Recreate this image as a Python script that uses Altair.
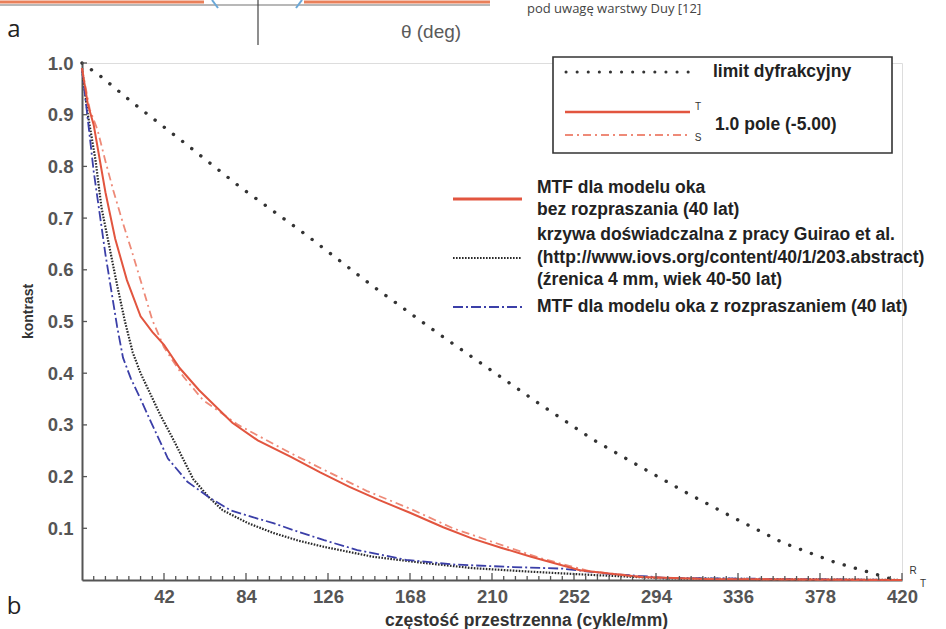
import altair as alt
import pandas as pd

# ---------------- data ----------------
limit_x = [0, 10, 26, 54, 81, 115, 148, 182, 233, 262, 286, 310, 334, 359, 385, 405, 416]
limit_y = [1.0, 0.973, 0.923, 0.841, 0.760, 0.667, 0.571, 0.478, 0.344, 0.271, 0.219, 0.168,
           0.120, 0.072, 0.035, 0.013, 0.0]

t_x = [0, 3, 6, 12, 17, 23, 30, 36, 42, 50, 60, 77, 90, 107, 122, 137, 152, 168, 185, 200,
       215, 230, 255, 286, 320, 420]
t_y = [0.99, 0.92, 0.88, 0.75, 0.66, 0.58, 0.51, 0.48, 0.455, 0.41, 0.367, 0.304, 0.27, 0.238,
       0.208, 0.180, 0.155, 0.130, 0.102, 0.08, 0.062, 0.045, 0.019, 0.006, 0.002, 0.0]

s_x = [0, 4, 8, 12, 16, 21, 26, 31, 36, 42, 52, 62, 80, 107, 124, 146, 168, 190, 210, 235,
       260, 290, 320, 420]
s_y = [0.99, 0.91, 0.87, 0.81, 0.754, 0.69, 0.63, 0.567, 0.503, 0.45, 0.393, 0.348, 0.30,
       0.245, 0.213, 0.172, 0.138, 0.10, 0.074, 0.042, 0.017, 0.005, 0.002, 0.0]

guirao_x = [0, 3, 7, 10, 14, 18, 22, 26, 30, 35, 40, 47, 57, 65, 72, 85, 98, 111, 124, 149,
            175, 200, 230, 260, 300, 420]
guirao_y = [0.99, 0.9, 0.81, 0.72, 0.645, 0.57, 0.50, 0.44, 0.40, 0.36, 0.32, 0.27, 0.195,
            0.16, 0.135, 0.11, 0.091, 0.076, 0.064, 0.045, 0.033, 0.023, 0.016, 0.01, 0.003, 0.0]

blue_x = [0, 3, 6, 9, 12, 15, 18, 21, 25, 30, 36, 44, 54, 65, 76, 87, 98, 111, 124, 141, 166,
          190, 221, 246, 270, 300, 420]
blue_y = [0.99, 0.89, 0.79, 0.71, 0.63, 0.56, 0.49, 0.43, 0.39, 0.35, 0.30, 0.235, 0.19, 0.16,
          0.135, 0.122, 0.11, 0.093, 0.077, 0.058, 0.039, 0.03, 0.025, 0.022, 0.012, 0.004, 0.0]

x_label_values = [42, 84, 126, 168, 210, 252, 294, 336, 378, 420]
x_minor_ticks = [6, 12, 18, 24, 30, 36, 48, 54, 60, 66, 72, 78, 90, 96, 102, 108, 114, 120,
                 132, 138, 144, 150, 156, 162, 174, 180, 186, 192, 198, 204, 216, 222, 228,
                 234, 240, 246, 258, 264, 270, 276, 282, 288, 300, 306, 312, 318, 324, 330,
                 342, 348, 354, 360, 366, 372, 384, 390, 396, 402, 408, 414]
y_tick_values = [0.1, 0.2, 0.3, 0.4, 0.5, 0.6, 0.7, 0.8, 0.9, 1.0]

FONT = "Liberation Sans"
AX = "#555555"
LBL = 18.5


def frame(xs, ys):
    return pd.DataFrame({"f": xs, "c": ys})


x_scale = alt.Scale(domain=[0, 420], nice=False, zero=True)
y_scale = alt.Scale(domain=[0, 1], nice=False)

x_enc = alt.X(
    "f:Q", scale=x_scale,
    axis=alt.Axis(
        values=x_label_values, format="d",
        labelOverlap=False, labelFlush=False,
        domainColor=AX, domainWidth=2, ticks=False,
        labelFont=FONT, labelFontWeight="bold", labelFontSize=LBL, labelColor=AX,
        labelPadding=7, grid=False,
        title="częstość przestrzenna (cykle/mm)", titleFont=FONT, titleFontWeight="bold",
        titleFontSize=17.5, titleColor="#333333", titleX=444, titleY=40,
        titleAlign="center", titleBaseline="middle",
    ),
)
y_enc = alt.Y(
    "c:Q", scale=y_scale,
    axis=alt.Axis(
        values=y_tick_values, format=".1f", labelOverlap=False, labelFlush=False,
        domainColor=AX, domainWidth=2, ticks=False,
        labelFont=FONT, labelFontWeight="bold", labelFontSize=LBL, labelColor=AX,
        labelPadding=9, grid=False,
        title="kontrast", titleFont=FONT, titleFontWeight="bold", titleFontSize=14,
        titleColor="#333333", titleAngle=270, titleX=-54, titleY=248,
        titleAlign="center", titleBaseline="middle",
    ),
)

RED = "#e2553f"
RED_S = "#ee8a78"
BLUE = "#3b3fa8"
BLACK = "#2a2a2a"

limit_line = alt.Chart(frame(limit_x, limit_y)).mark_line(
    color="#333333", strokeWidth=3.4, strokeDash=[0.1, 11.5], strokeCap="round"
).encode(x=x_enc, y=y_enc)

t_line = alt.Chart(frame(t_x, t_y)).mark_line(color=RED, strokeWidth=2).encode(x="f:Q", y="c:Q")
s_line = alt.Chart(frame(s_x, s_y)).mark_line(
    color=RED_S, strokeWidth=1.8, strokeDash=[8, 4, 2, 4]
).encode(x="f:Q", y="c:Q")
guirao_line = alt.Chart(frame(guirao_x, guirao_y)).mark_line(
    color=BLACK, strokeWidth=2.2, strokeDash=[1.6, 1.4]
).encode(x="f:Q", y="c:Q")
blue_line = alt.Chart(frame(blue_x, blue_y)).mark_line(
    color=BLUE, strokeWidth=1.8, strokeDash=[10, 3, 2, 3]
).encode(x="f:Q", y="c:Q")

# inward ticks (as in the reference)
minor_x = alt.Chart(pd.DataFrame({"f": x_minor_ticks})).mark_rule(color=AX, strokeWidth=1.3).encode(
    x="f:Q", y=alt.value(513), y2=alt.value(517))
major_x = alt.Chart(pd.DataFrame({"f": x_label_values})).mark_rule(color=AX, strokeWidth=1.3).encode(
    x="f:Q", y=alt.value(510), y2=alt.value(517))
ticks_y = alt.Chart(pd.DataFrame({"c": y_tick_values})).mark_rule(color=AX, strokeWidth=1.3).encode(
    y="c:Q", x=alt.value(0), x2=alt.value(5))

one = pd.DataFrame({"k": [0]})

# ---------------- legend (plot-area pixel coordinates) ----------------
legend_box = alt.Chart(one).mark_rect(fill="white", stroke="#333333", strokeWidth=1.6).encode(
    x=alt.value(471), x2=alt.value(810), y=alt.value(-6), y2=alt.value(90)
)
leg_limit = alt.Chart(one).mark_rule(
    color="#333333", strokeWidth=3, strokeDash=[0.1, 11], strokeCap="round"
).encode(x=alt.value(484), x2=alt.value(608), y=alt.value(9))
leg_t = alt.Chart(one).mark_rule(color=RED, strokeWidth=2.5).encode(
    x=alt.value(483), x2=alt.value(608), y=alt.value(49))
leg_s = alt.Chart(one).mark_rule(color=RED_S, strokeWidth=2, strokeDash=[8, 4, 2, 4]).encode(
    x=alt.value(483), x2=alt.value(608), y=alt.value(72))
leg_red2 = alt.Chart(one).mark_rule(color=RED, strokeWidth=3).encode(
    x=alt.value(371), x2=alt.value(440), y=alt.value(136))
leg_guirao = alt.Chart(one).mark_rule(color=BLACK, strokeWidth=2.2, strokeDash=[1.6, 1.4]).encode(
    x=alt.value(371), x2=alt.value(440), y=alt.value(195))
leg_blue = alt.Chart(one).mark_rule(color=BLUE, strokeWidth=2, strokeDash=[10, 3, 2, 3]).encode(
    x=alt.value(371), x2=alt.value(440), y=alt.value(244))

legend_texts = pd.DataFrame({
    "t": ["limit dyfrakcyjny", "1.0 pole (-5.00)", "MTF dla modelu oka",
          "bez rozpraszania (40 lat)", "krzywa doświadczalna z pracy Guirao et al.",
          "(http://www.iovs.org/content/40/1/203.abstract)", "(źrenica 4 mm, wiek 40-50 lat)",
          "MTF dla modelu oka z rozpraszaniem (40 lat)"],
    "px": [631, 633, 455, 455, 455, 455, 455, 455],
    "py": [9, 62, 125, 147, 172, 195, 217, 244],
})
legend_text = alt.Chart(legend_texts).mark_text(
    align="left", baseline="middle", font=FONT, fontWeight="bold", fontSize=17.5, color="#222222"
).encode(x=alt.X("px:Q", scale=None), y=alt.Y("py:Q", scale=None), text="t:N")

small_texts = pd.DataFrame({
    "t": ["T", "S", "R", "T"],
    "px": [616, 616, 831, 841],
    "py": [44, 75, 508, 521],
})
small_text = alt.Chart(small_texts).mark_text(
    align="center", baseline="middle", font=FONT, fontSize=10, color="#333333"
).encode(x=alt.X("px:Q", scale=None), y=alt.Y("py:Q", scale=None), text="t:N")

# ---------------- page fragments around the figure ----------------
panel_letters = pd.DataFrame({"t": ["a", "b"], "px": [-68, -68], "py": [-33, 544]})
letters = alt.Chart(panel_letters).mark_text(
    align="center", baseline="middle", font="Open Sans", fontSize=24, color="#222222"
).encode(x=alt.X("px:Q", scale=None), y=alt.Y("py:Q", scale=None), text="t:N")

theta_lbl = alt.Chart(one).mark_text(
    text="θ (deg)", align="center", baseline="middle", font=FONT, fontSize=19, color="#5a5a5a"
).encode(x=alt.value(349), y=alt.value(-31))
caption = alt.Chart(one).mark_text(
    text="pod uwagę warstwy Duy [12]", align="left", baseline="middle", font="Open Sans",
    fontSize=13, color="#444444"
).encode(x=alt.value(445), y=alt.value(-54))

top_gray = alt.Chart(one).mark_rule(color="#b8b8b8", strokeWidth=2).encode(
    x=alt.value(-82), x2=alt.value(408), y=alt.value(-58))
top_red1 = alt.Chart(one).mark_rule(color="#e9805a", strokeWidth=3).encode(
    x=alt.value(-82), x2=alt.value(122), y=alt.value(-61))
top_red2 = alt.Chart(one).mark_rule(color="#e9805a", strokeWidth=3).encode(
    x=alt.value(222), x2=alt.value(408), y=alt.value(-61))
top_vert = alt.Chart(one).mark_rule(color="#444444", strokeWidth=1.2).encode(
    x=alt.value(176), y=alt.value(-63), y2=alt.value(-18))
top_blue1 = alt.Chart(one).mark_rule(color="#6aa8d8", strokeWidth=2).encode(
    x=alt.value(130), x2=alt.value(136), y=alt.value(-63), y2=alt.value(-55))
top_blue2 = alt.Chart(one).mark_rule(color="#6aa8d8", strokeWidth=2).encode(
    x=alt.value(214), x2=alt.value(220), y=alt.value(-55), y2=alt.value(-63))

chart = alt.layer(
    limit_line, guirao_line, blue_line, s_line, t_line, minor_x, major_x, ticks_y,
    legend_box, leg_limit, leg_t, leg_s, leg_red2, leg_guirao, leg_blue,
    legend_text, small_text, letters, theta_lbl, caption,
    top_gray, top_red1, top_red2, top_vert, top_blue1, top_blue2,
).properties(
    width=820, height=517,
    autosize=alt.AutoSizeParams(type="none"),
    padding={"left": 82, "top": 63, "right": 44, "bottom": 49},
).configure_view(stroke=None).configure(background="white")

chart.save("out.html", embed_options={"renderer": "svg", "actions": False})
